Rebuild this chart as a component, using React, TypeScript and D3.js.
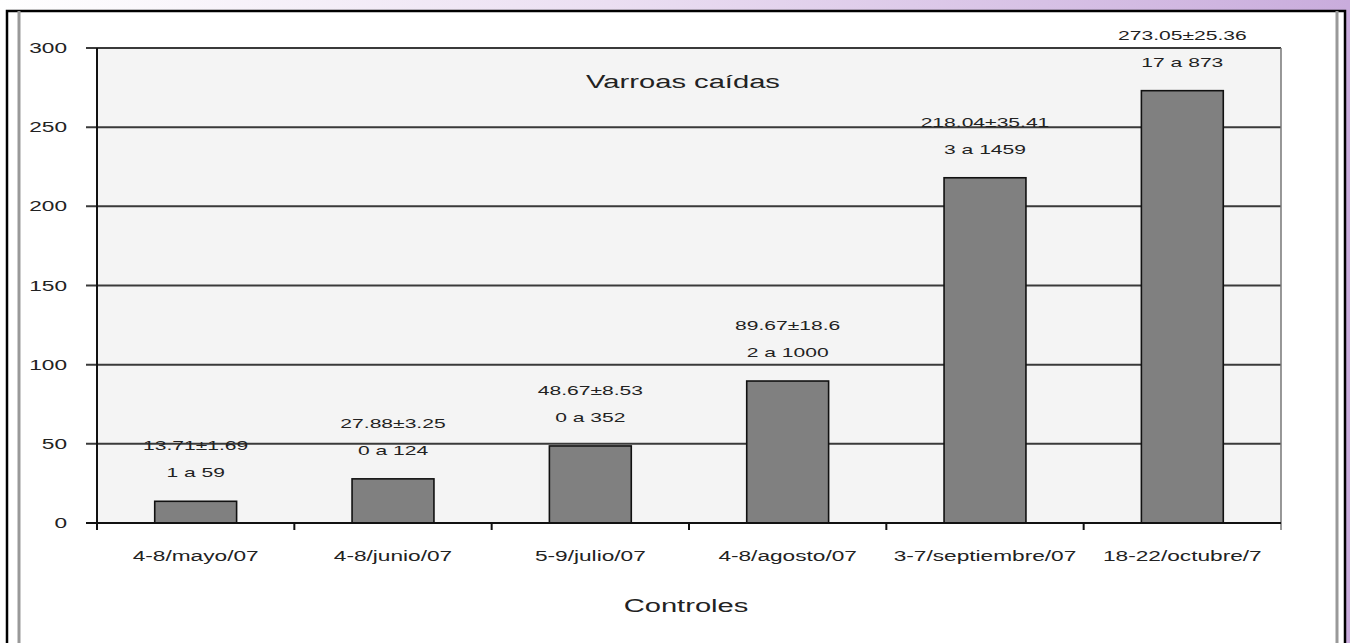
import { useRef, useEffect } from "react";
import * as d3 from "d3";

const categories = [
  "4-8/mayo/07",
  "4-8/junio/07",
  "5-9/julio/07",
  "4-8/agosto/07",
  "3-7/septiembre/07",
  "18-22/octubre/7",
];
const means = [13.71, 27.88, 48.67, 89.67, 218.04, 273.05];
const meanLabels = [
  "13.71±1.69",
  "27.88±3.25",
  "48.67±8.53",
  "89.67±18.6",
  "218.04±35.41",
  "273.05±25.36",
];
const rangeLabels = ["1 a 59", "0 a 124", "0 a 352", "2 a 1000", "3 a 1459", "17 a 873"];
const yTicks = [0, 50, 100, 150, 200, 250, 300];

const W = 1350;
const H = 643;
const SX = 1.62; // the scan is stretched sideways

const App = () => {
  const svgRef = useRef<SVGSVGElement | null>(null);

  useEffect(() => {
    document.body.style.margin = "0";
    if (!svgRef.current) return;

    const svg = d3.select(svgRef.current);
    svg.selectAll("*").remove();
    svg
      .attr("width", W)
      .attr("height", H)
      .attr("viewBox", [0, 0, W, H])
      .style("display", "block")
      .style("font-family", "'Liberation Sans', Arial, sans-serif");

    // background with lavender band
    const grad = svg
      .append("defs")
      .append("linearGradient")
      .attr("id", "band")
      .attr("x1", 0)
      .attr("x2", 1)
      .attr("y1", 0)
      .attr("y2", 0);
    grad.append("stop").attr("offset", "0%").attr("stop-color", "#ffffff");
    grad.append("stop").attr("offset", "45%").attr("stop-color", "#ebdff2");
    grad.append("stop").attr("offset", "100%").attr("stop-color", "#c9acdc");

    svg.append("rect").attr("width", W).attr("height", H).attr("fill", "#ffffff");
    svg.append("rect").attr("width", W).attr("height", 11).attr("fill", "url(#band)");
    svg.append("rect").attr("x", 1346).attr("width", 4).attr("height", H).attr("fill", "#c9acdc");

    // frame
    const frame = svg.append("g").attr("fill", "none");
    frame.append("path").attr("d", `M7,${H}V11H1345V${H}`).attr("stroke", "#000").attr("stroke-width", 2.5);
    frame.append("line").attr("x1", 19).attr("x2", 19).attr("y1", 11).attr("y2", H).attr("stroke", "#999").attr("stroke-width", 3);
    frame.append("line").attr("x1", 1337).attr("x2", 1337).attr("y1", 11).attr("y2", H).attr("stroke", "#999").attr("stroke-width", 3);

    const left = 97;
    const right = 1281;
    const x = d3.scaleBand<string>().domain(categories).range([left, right]);
    const y = d3.scaleLinear().domain([0, 300]).range([523, 48]);
    const barW = x.bandwidth() * 0.415;

    // plot area
    svg
      .append("rect")
      .attr("x", left)
      .attr("y", y(300))
      .attr("width", right - left)
      .attr("height", y(0) - y(300))
      .attr("fill", "#f4f4f4");

    const txt = (
      g: d3.Selection<SVGGElement, unknown, null, undefined>,
      tx: number,
      ty: number,
      s: string,
      size: number,
      anchor = "middle"
    ) =>
      g
        .append("text")
        .attr("transform", `translate(${tx},${ty}) scale(${SX},1)`)
        .attr("text-anchor", anchor)
        .attr("font-size", size)
        .attr("fill", "#222")
        .text(s);

    // grid + y ticks
    const grid = svg.append("g");
    yTicks.forEach((t) => {
      grid
        .append("line")
        .attr("x1", 86)
        .attr("x2", t === 0 ? right : right)
        .attr("y1", y(t))
        .attr("y2", y(t))
        .attr("stroke", "#3a3a3a")
        .attr("stroke-width", 2);
      txt(grid, 67, y(t) + 5, String(t), 14, "end");
    });
    grid
      .append("line")
      .attr("x1", right)
      .attr("x2", right)
      .attr("y1", y(300))
      .attr("y2", 530)
      .attr("stroke", "#777")
      .attr("stroke-width", 1.5);

    // title
    txt(grid, 683, 88, "Varroas caídas", 18);

    // bars
    const bars = svg.append("g");
    bars
      .selectAll("rect")
      .data(means)
      .join("rect")
      .attr("x", (_, i) => x(categories[i])! + (x.bandwidth() - barW) / 2)
      .attr("y", (d) => y(d))
      .attr("width", barW)
      .attr("height", (d) => y(0) - y(d))
      .attr("fill", "#808080")
      .attr("stroke", "#111")
      .attr("stroke-width", 1.6);

    means.forEach((d, i) => {
      const cx = x(categories[i])! + x.bandwidth() / 2;
      txt(bars, cx, y(d) - 51, meanLabels[i], 13);
      txt(bars, cx, y(d) - 24, rangeLabels[i], 13);
    });

    // axes
    const axes = svg.append("g").attr("stroke", "#111").attr("stroke-width", 2);
    axes.append("line").attr("x1", left).attr("x2", left).attr("y1", y(300)).attr("y2", 530);
    axes.append("line").attr("x1", 86).attr("x2", right).attr("y1", y(0)).attr("y2", y(0));
    categories.forEach((c, i) => {
      const bx = x(c)! + (i === 0 ? 0 : 0);
      axes.append("line").attr("x1", bx).attr("x2", bx).attr("y1", y(0)).attr("y2", 530);
    });

    const labels = svg.append("g");
    categories.forEach((c) => {
      txt(labels, x(c)! + x.bandwidth() / 2, 561, c, 14);
    });
    txt(labels, 686, 612, "Controles", 18);
  }, []);

  return <svg ref={svgRef}></svg>;
};

export default App;
